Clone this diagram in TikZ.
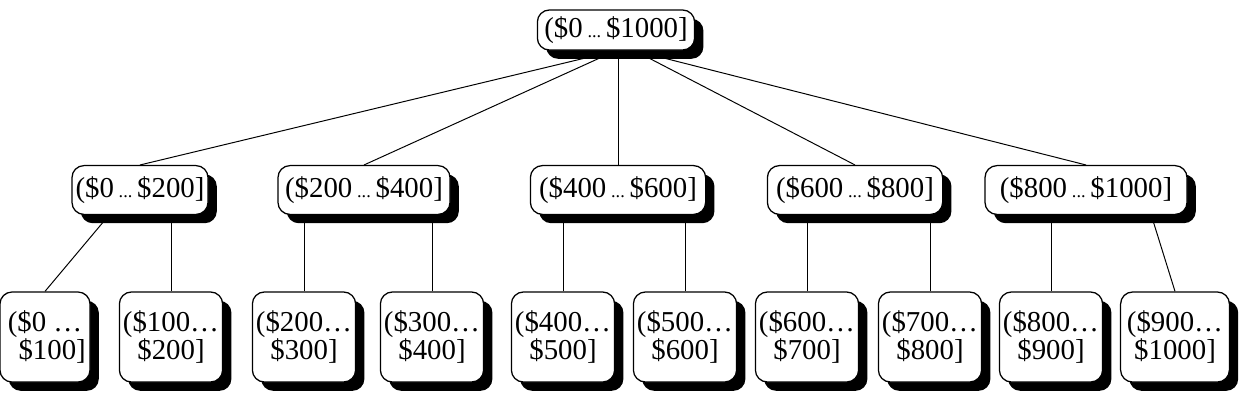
\documentclass[tikz,border=0pt]{standalone}
\usepackage{fontspec}
\setmainfont{Liberation Serif}
\usetikzlibrary{shadows,backgrounds}
\newcommand{\smalldots}{\,{\fontsize{13}{13}\selectfont...}\,}
\tikzset{
	rangebox/.style={draw, line width=0.9pt, fill=white, rounded corners=0.3cm, inner sep=0pt,
		font=\fontsize{20.5}{20}\selectfont,
		drop shadow={shadow xshift=0.22cm, shadow yshift=-0.22cm, fill=black, opacity=1}},
	rootbox/.style={rangebox, minimum width=3.93cm, minimum height=1.0cm},
	midbox/.style={rangebox, minimum height=1.22cm},
	leafbox/.style={rangebox, align=center, minimum width=2.58cm, minimum height=2.25cm},
	link/.style={line width=0.7pt}
}
\begin{document}
\begin{tikzpicture}[x=0.025cm, y=-0.025cm]
	\useasboundingbox (0,0) rectangle (1248,404);

	\node[rootbox] (root) at (616,30) {(\$0\smalldots\$1000]};

	\node[midbox, minimum width=3.4cm] (m1) at (140,190) {(\$0\smalldots\$200]};
	\node[midbox, minimum width=4.3cm] (m2) at (364,190) {(\$200\smalldots\$400]};
	\node[midbox, minimum width=4.38cm] (m3) at (618,190) {(\$400\smalldots\$600]};
	\node[midbox, minimum width=4.38cm] (m4) at (855,190) {(\$600\smalldots\$800]};
	\node[midbox, minimum width=5.05cm] (m5) at (1086,190) {(\$800\smalldots\$1000]};

	\node[leafbox, minimum width=2.25cm] (l1) at (45,337) {(\$0 …\\ \ \ \$100]};
	\node[leafbox] (l2) at (171,337) {(\$100…\\\$200]};
	\node[leafbox] (l3) at (304,337) {(\$200…\\\$300]};
	\node[leafbox] (l4) at (432,337) {(\$300…\\\$400]};
	\node[leafbox] (l5) at (563,337) {(\$400…\\\$500]};
	\node[leafbox] (l6) at (685,337) {(\$500…\\\$600]};
	\node[leafbox] (l7) at (807,337) {(\$600…\\\$700]};
	\node[leafbox] (l8) at (930,337) {(\$700…\\\$800]};
	\node[leafbox] (l9) at (1051,337) {(\$800…\\\$900]};
	\node[leafbox, minimum width=2.72cm] (l10) at (1175,337) {(\$900…\\\$1000]};

	\begin{scope}[on background layer]
		\draw[link] (root.south) -- (m1.north);
		\draw[link] (root.south) -- (m2.north);
		\draw[link] (m3.north) -- (m3.north |- root.south);
		\draw[link] (root.-48) -- (m4.north);
		\draw[link] (root.-48) -- (m5.north);

		\draw[link] (m1.-141) -- (l1.north);
		\draw[link] (l2.north) -- (l2.north |- m1.south);
		\draw[link] (l3.north) -- (l3.north |- m2.south);
		\draw[link] (l4.north) -- (l4.north |- m2.south);
		\draw[link] (l5.north) -- (l5.north |- m3.south);
		\draw[link] (l6.north) -- (l6.north |- m3.south);
		\draw[link] (l7.north) -- (l7.north |- m4.south);
		\draw[link] (l8.north) -- (l8.north |- m4.south);
		\draw[link] (l9.north) -- (l9.north |- m5.south);
		\draw[link] (m5.-21) -- (l10.north);
	\end{scope}
\end{tikzpicture}
\end{document}
